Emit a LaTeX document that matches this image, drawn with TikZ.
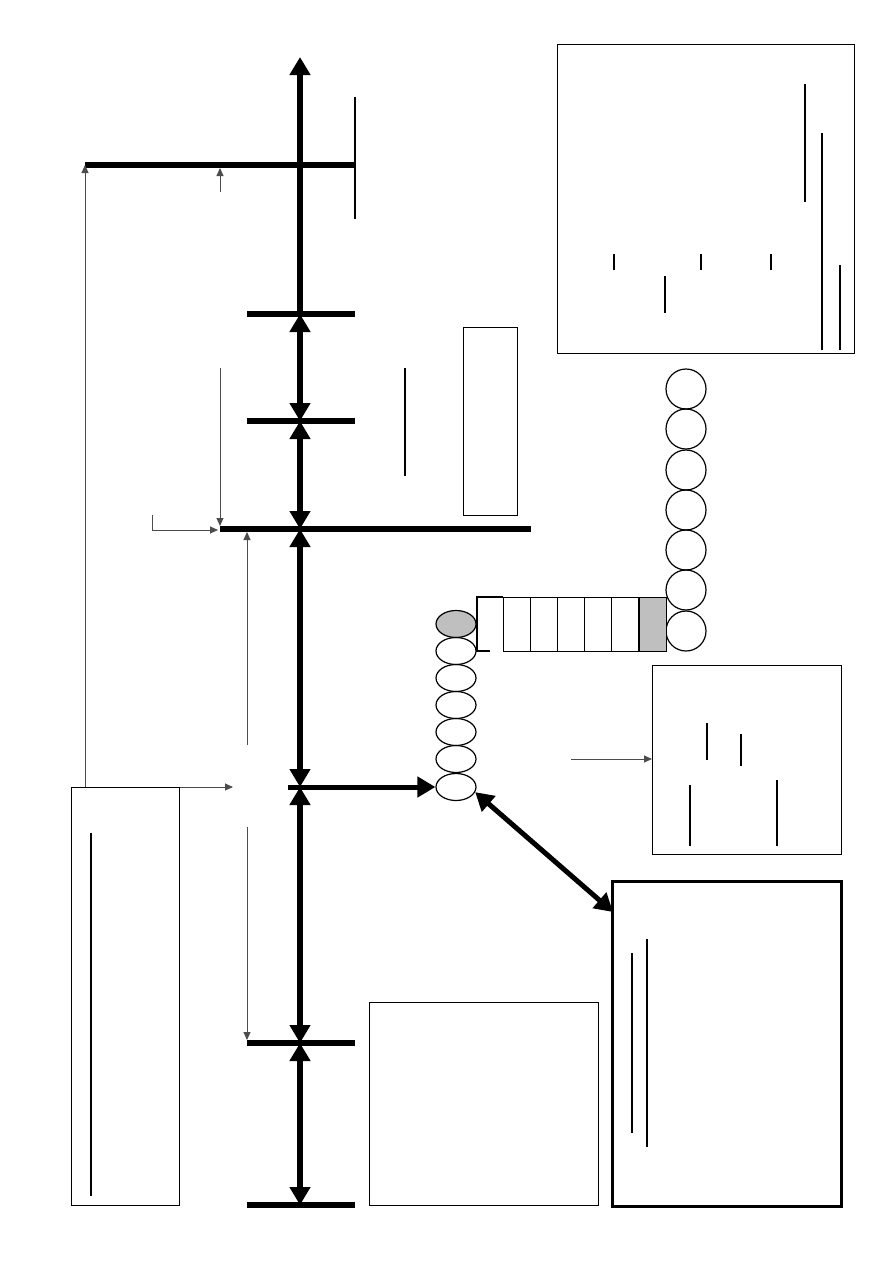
\documentclass[tikz,border=0pt]{standalone}
\usetikzlibrary{arrows.meta,shapes.geometric}
\begin{document}
\begin{tikzpicture}[x=1pt,y=-1pt,
  bar/.style={line width=6pt},
  spine/.style={line width=6pt},
  bigtip/.style={-{Triangle[length=18pt,width=20pt]}},
  bigboth/.style={{Triangle[length=18pt,width=20pt]}-{Triangle[length=18pt,width=20pt]}},
  thinarrow/.style={line width=0.9pt,draw=black!70,-{Triangle[length=8pt,width=7pt]}},
  thinline/.style={line width=0.9pt,draw=black!70},
  box/.style={draw,line width=1.2pt,inner sep=0pt,anchor=north west,fill=white},
  tick/.style={line width=1.4pt},
  tickb/.style={line width=2.6pt},
  cell/.style={draw,line width=1.2pt,inner sep=0pt,minimum width=27pt,minimum height=54pt,anchor=north west},
  ring/.style={draw,circle,line width=1.2pt,inner sep=0pt,minimum size=40pt},
  oval/.style={draw,ellipse,line width=1.2pt,inner sep=0pt,minimum width=40pt,minimum height=27pt}
]
\useasboundingbox (0,0) rectangle (893,1263);

% spine coordinates
\coordinate (s0) at (300,57);
\coordinate (b1) at (300,165);
\coordinate (b2) at (300,314);
\coordinate (b3) at (300,421);
\coordinate (b4) at (300,529);
\coordinate (b5) at (300,787);
\coordinate (b6) at (300,1043);
\coordinate (b7) at (300,1205);

% horizontal bars
\coordinate (h1a) at (85,165);  \coordinate (h1b) at (355,165);
\coordinate (h2a) at (247,314); \coordinate (h2b) at (355,314);
\coordinate (h3a) at (247,421); \coordinate (h3b) at (355,421);
\coordinate (h4a) at (220,529); \coordinate (h4b) at (531,529);
\coordinate (h6a) at (247,1043); \coordinate (h6b) at (355,1043);
\coordinate (h7a) at (247,1205); \coordinate (h7b) at (355,1205);
\draw[bar] (h1a) -- (h1b);
\draw[bar] (h2a) -- (h2b);
\draw[bar] (h3a) -- (h3b);
\draw[bar] (h4a) -- (h4b);
\draw[bar] (h6a) -- (h6b);
\draw[bar] (h7a) -- (h7b);

% small vertical at end of top bar
\coordinate (v1a) at (355,97); \coordinate (v1b) at (355,219);
\draw[line width=1.8pt] (v1a) -- (v1b);

% spine arrows
\draw[spine,bigtip] (b2) -- (s0);
\draw[spine,bigboth] (b2) -- (b3);
\draw[spine,bigboth] (b3) -- (b4);
\draw[spine,bigboth] (b4) -- (b5);
\draw[spine,bigboth] (b5) -- (b6);
\draw[spine,bigboth] (b6) -- (b7);

% boxes
\node[box,minimum width=297pt,minimum height=309pt] (tr) at (557,44) {};
\node[box,minimum width=54pt,minimum height=188pt] (tall) at (463,327) {};
\node[box,minimum width=189pt,minimum height=189pt] (mr) at (652,665) {};
\node[box,line width=2.6pt,minimum width=229pt,minimum height=325pt] (br) at (611,880) {};
\node[box,minimum width=229pt,minimum height=203pt] (bc) at (369,1002) {};
\node[box,minimum width=108pt,minimum height=418pt] (lb) at (71,787) {};

% marks inside top-right box
\draw[tick] (805,84) -- (805,202);
\draw[tick] (822,133) -- (822,350);
\draw[tick] (840,265) -- (840,350);
\draw[tickb] (614,254) -- (614,270);
\draw[tickb] (701,254) -- (701,270);
\draw[tick] (771,254) -- (771,270);
\draw[tick] (665,276) -- (665,313);

% mark near tall box
\draw[tick] (405,368) -- (405,476);

% marks inside middle-right box
\draw[tick] (707,723) -- (707,760);
\draw[tick] (741,734) -- (741,766);
\draw[tickb] (690,785) -- (690,846);
\draw[tick] (777,780) -- (777,846);

% marks inside bottom-right box
\draw[tick] (632,953) -- (632,1133);
\draw[tickb] (647,939) -- (647,1147);

% mark inside left box
\draw[tick] (91,833) -- (91,1196);

% column of circles
\foreach \i/\y in {1/389,2/429,3/470,4/510,5/550,6/590,7/631}
  \node[ring] (c\i) at (686,\y) {};

% row of cells
\foreach \i/\x in {2/503,3/530,4/557,5/584,6/611}
  \node[cell] (r\i) at (\x,597) {};
\node[cell,fill=gray!50] (r7) at (639,597) {};
\coordinate (r1a) at (503,597); \coordinate (r1b) at (477,597);
\coordinate (r1c) at (477,651); \coordinate (r1d) at (490,651);
\draw[line width=1.2pt] (r1a) -- (r1b) -- (r1c) -- (r1d);

% column of ovals
\node[oval,fill=gray!50] (e1) at (456,624) {};
\foreach \i/\y in {2/651,3/678,4/705,5/732,6/759,7/787}
  \node[oval] (e\i) at (456,\y) {};

% thick arrows to ovals
\coordinate (ha) at (288,787);
\draw[line width=5pt,bigtip] (ha) -- (e7.west);
\coordinate (dg) at (613,912);
\draw[line width=5pt,bigboth] (e7.-15) -- (dg);

% thin arrows
\coordinate (t1) at (85,787);
\draw[thinarrow] (t1) -- (h1a);
\coordinate (t2a) at (220,192); \coordinate (t2b) at (220,168);
\draw[thinarrow] (t2a) -- (t2b);
\coordinate (t3a) at (220,368); \coordinate (t3b) at (220,526);
\draw[thinarrow] (t3a) -- (t3b);
\coordinate (t4a) at (152,515); \coordinate (t4b) at (152,530); \coordinate (t4c) at (218,530);
\draw[thinarrow] (t4a) -- (t4b) -- (t4c);
\coordinate (t5a) at (247,745); \coordinate (t5b) at (247,532);
\draw[thinarrow] (t5a) -- (t5b);
\coordinate (t6a) at (247,827); \coordinate (t6b) at (247,1040);
\draw[thinarrow] (t6a) -- (t6b);
\coordinate (t7a) at (180,787); \coordinate (t7b) at (233,787);
\draw[thinarrow] (t7a) -- (t7b);
\coordinate (t8a) at (571,759);
\draw[thinarrow] (t8a) -- (mr.west |- t8a);
\end{tikzpicture}
\end{document}
